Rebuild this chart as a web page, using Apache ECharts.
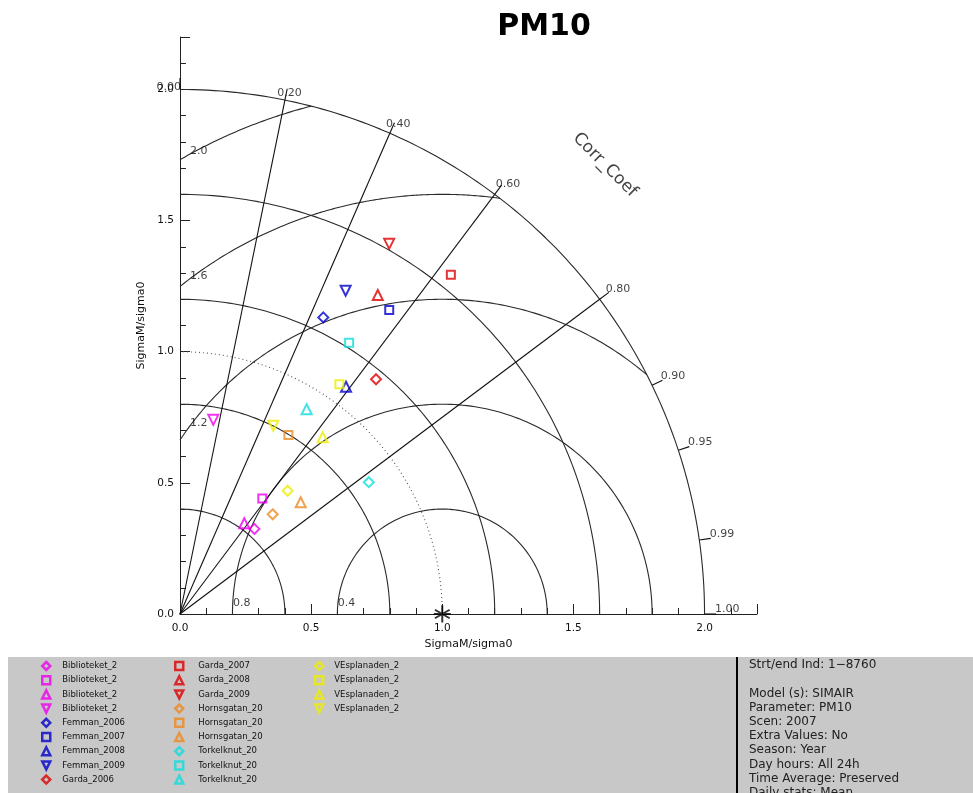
<!DOCTYPE html>
<html>
<head>
<meta charset="utf-8">
<script src="https://cdn.jsdelivr.net/npm/echarts@6/dist/echarts.min.js"></script>
<style>
  html, body { margin: 0; padding: 0; background: #fff; }
  #chart { width: 973px; height: 793px; }
</style>
</head>
<body>
<div id="chart"></div>
<script>
// Taylor diagram: normalised standard deviation vs correlation, PM10, SIMAIR 2007

const pointNames = [
  'Biblioteket_2', 'Biblioteket_2', 'Biblioteket_2', 'Biblioteket_2',
  'Femman_2006', 'Femman_2007', 'Femman_2008', 'Femman_2009',
  'Garda_2006', 'Garda_2007', 'Garda_2008', 'Garda_2009',
  'Hornsgatan_20', 'Hornsgatan_20', 'Hornsgatan_20',
  'Torkelknut_20', 'Torkelknut_20', 'Torkelknut_20',
  'VEsplanaden_2', 'VEsplanaden_2', 'VEsplanaden_2', 'VEsplanaden_2'
];
// SigmaM / sigma0
const sigmaRatio = [
  0.431, 0.541, 0.424, 0.751,
  1.256, 1.407, 1.073, 1.385,
  1.166, 1.655, 1.431, 1.621,
  0.519, 0.798, 0.627,
  0.878, 1.219, 0.918,
  0.624, 1.066, 0.866, 0.801
];
// correlation coefficient
const corrCoef = [
  0.658, 0.580, 0.578, 0.169,
  0.435, 0.567, 0.590, 0.456,
  0.641, 0.624, 0.527, 0.492,
  0.681, 0.518, 0.734,
  0.820, 0.529, 0.526,
  0.658, 0.570, 0.628, 0.444
];
const pointShapes = [
  'diamond', 'square', 'up', 'down',
  'diamond', 'square', 'up', 'down',
  'diamond', 'square', 'up', 'down',
  'diamond', 'square', 'up',
  'diamond', 'square', 'up',
  'diamond', 'square', 'up', 'down'
];
const stationColors = {
  Biblioteket: '#ee00ee', Femman: '#0000cc', Garda: '#dd0000',
  Hornsgatan: '#ee8822', Torkelknut: '#11dddd', VEsplanaden: '#eeee00'
};

const legendColumns = [[0, 1, 2, 3, 4, 5, 6, 7, 8], [9, 10, 11, 12, 13, 14, 15, 16, 17], [18, 19, 20, 21]];

// grid lines of the diagram
const stdArcs = [0.4, 0.8, 1.2, 1.6, 2.0];
const refStd = 1.0;
const rmsArcs = [0.4, 0.8, 1.2, 1.6, 2.0];
const corrRays = [0.2, 0.4, 0.6, 0.8];
const corrTicks = [0.0, 0.2, 0.4, 0.6, 0.8, 0.9, 0.95, 0.99, 1.0];
const axisMax = 2.2;
const outerStd = 2.0;

const infoLines = [
  'Strt/end Ind: 1\u22128760', '',
  'Model (s): SIMAIR', 'Parameter: PM10', 'Scen: 2007', 'Extra Values: No',
  'Season: Year', 'Day hours: All 24h', 'Time Average: Preserved', 'Daily stats: Mean'
];

const FONT = 'DejaVu Sans';

function toXY(s, c) { return [s * c, s * Math.sqrt(Math.max(0, 1 - c * c))]; }
function arc(cx, R, phiFrom, phiTo, n) {
  const pts = [];
  for (let k = 0; k <= n; k++) {
    const p = phiFrom + (phiTo - phiFrom) * k / n;
    pts.push([cx + R * Math.cos(p), R * Math.sin(p)]);
  }
  return pts;
}
function lineSeries(data, style) {
  return {
    type: 'line', data: data, showSymbol: false, symbol: 'none', silent: true,
    lineStyle: Object.assign({ color: '#2a2a2a', width: 1.1 }, style || {}), z: 2, clip: false
  };
}

const series = [];

// standard deviation arcs about the origin
stdArcs.forEach(R => series.push(lineSeries(arc(0, R, 0, Math.PI / 2, 120))));
series.push(lineSeries(arc(0, refStd, 0, Math.PI / 2, 120), { type: [1, 3], color: '#555' }));

// centred RMS difference arcs about the reference point
rmsArcs.forEach(R => {
  const cMax = Math.min(1, (outerStd * outerStd - 1 - R * R) / (2 * R));
  const cMin = Math.max(-1, -1 / R);
  series.push(lineSeries(arc(1, R, Math.acos(cMax), Math.acos(cMin), 160)));
});

// correlation rays and outer ticks
corrRays.forEach(c => series.push(lineSeries([[0, 0], toXY(outerStd, c)], { color: '#111' })));
corrTicks.forEach(c => series.push(lineSeries([toXY(outerStd, c), toXY(outerStd * 1.022, c)], { color: '#111' })));

// correlation labels on the outer arc
series.push({
  type: 'scatter', symbolSize: 1, silent: true, z: 3,
  itemStyle: { color: 'transparent' },
  data: corrTicks.map(c => {
    const t = Math.acos(c);
    const dx = c === 0 ? -23 : 11 * Math.cos(t) - 10 * Math.pow(Math.sin(t), 3);
    const dy = c === 0 ? -2 : -4 - 6 * Math.sin(2 * t);
    return {
      value: toXY(outerStd, c),
      label: {
        show: true, formatter: c.toFixed(2), position: [dx, dy], align: 'left', verticalAlign: 'middle',
        fontFamily: FONT, fontSize: 11, color: '#111'
      }
    };
  })
});

// RMS arc labels
series.push({
  type: 'scatter', symbolSize: 1, silent: true, z: 3,
  itemStyle: { color: 'transparent' },
  data: rmsArcs.map(R => {
    const pos = R < 1 ? [1 - R, 0] : [0.04, Math.sqrt(R * R - 0.96 * 0.96)];
    return {
      value: pos,
      label: {
        show: true, formatter: R.toFixed(1), position: R < 1 ? [1, -10] : [0, -2],
        align: 'left', verticalAlign: 'middle', fontFamily: FONT, fontSize: 11, color: '#111'
      }
    };
  })
});

// reference point
series.push({
  type: 'scatter', silent: true, z: 6,
  symbol: 'path://M0,-10L0,10M-8.66,-5L8.66,5M-8.66,5L8.66,-5M-10,0L10,0',
  symbolSize: 17,
  itemStyle: { color: 'transparent', borderColor: '#000', borderWidth: 2 },
  data: [[refStd, 0]]
});

// model points
const symbolFor = {
  diamond: ['diamond', 10], square: ['rect', 8], up: ['triangle', 10],
  down: ['path://M0,0L10,0L5,10Z', 10]
};
pointNames.forEach((name, i) => {
  const color = stationColors[name.split('_')[0]];
  const sym = symbolFor[pointShapes[i]];
  series.push({
    name: name + '#' + i, type: 'scatter', z: 5,
    symbol: sym[0], symbolSize: sym[1],
    itemStyle: { color: 'transparent', borderColor: color, borderWidth: 2 },
    data: [toXY(sigmaRatio[i], corrCoef[i])]
  });
});

const legendLefts = [41, 174, 314];
const legendTextPad = [7, 10, 6];
const legend = legendColumns.map((col, k) => ({
  orient: 'vertical', left: legendLefts[k], top: 660, padding: 0,
  itemWidth: 8, itemHeight: 8, itemGap: 2.2, selectedMode: false,
  data: col.map(i => pointNames[i] + '#' + i),
  formatter: n => n.split('#')[0],
  itemStyle: { borderWidth: 2.5 },
  textStyle: { fontFamily: FONT, fontSize: 8.5, color: '#111', lineHeight: 12, padding: [0, 0, 0, legendTextPad[k]] }
}));

const axisCommon = {
  type: 'value', min: 0, max: axisMax, interval: 0.5,
  axisLine: { show: true, onZero: false, lineStyle: { color: '#222', width: 1 } },
  axisTick: { show: true, inside: true, length: 10, lineStyle: { color: '#222' } },
  minorTick: { show: true, splitNumber: 5, length: 6, lineStyle: { color: '#222' } },
  splitLine: { show: false },
  axisLabel: {
    formatter: v => v.toFixed(1), showMaxLabel: false,
    fontFamily: FONT, fontSize: 10.5, color: '#111'
  },
  name: 'SigmaM/sigma0', nameLocation: 'middle',
  nameTextStyle: { fontFamily: FONT, fontSize: 11, color: '#111' }
};

const option = {
  animation: false,
  backgroundColor: '#fff',
  textStyle: { fontFamily: FONT },
  grid: { left: 180, top: 37, width: 577, height: 577, containLabel: false, outerBoundsMode: 'none' },
  xAxis: Object.assign({}, axisCommon, { nameGap: 23, axisLabel: Object.assign({}, axisCommon.axisLabel, { margin: 9 }) }),
  yAxis: Object.assign({}, axisCommon, { nameGap: 30, axisLabel: Object.assign({}, axisCommon.axisLabel, { margin: 6 }) }),
  legend: legend,
  graphic: [
    { type: 'rect', z: -10, shape: { x: 8, y: 657, width: 965, height: 136 }, style: { fill: '#c8c8c8' } },
    { type: 'line', z: 1, shape: { x1: 737, y1: 657, x2: 737, y2: 793 }, style: { stroke: '#000', lineWidth: 2 } },
    {
      type: 'text', z: 1, x: 749, y: 657.9,
      style: {
        text: infoLines.join('\n'), fontFamily: FONT, fontSize: 12, lineHeight: 14.22,
        fill: '#222', align: 'left', verticalAlign: 'top'
      }
    },
    {
      type: 'text', z: 1, x: 544, y: 27,
      style: { text: 'PM10', fontFamily: FONT, fontWeight: 'bold', fontSize: 30, fill: '#000', align: 'center', verticalAlign: 'middle' }
    },
    {
      type: 'text', z: 1, x: 605, y: 165, rotation: -Math.PI / 4,
      style: { text: 'Corr_Coef', fontFamily: FONT, fontSize: 17, fill: '#444', align: 'center', verticalAlign: 'middle' }
    }
  ],
  series: series
};

const chart = echarts.init(document.getElementById('chart'), null, { renderer: 'canvas' });
chart.setOption(option);
</script>
</body>
</html>
